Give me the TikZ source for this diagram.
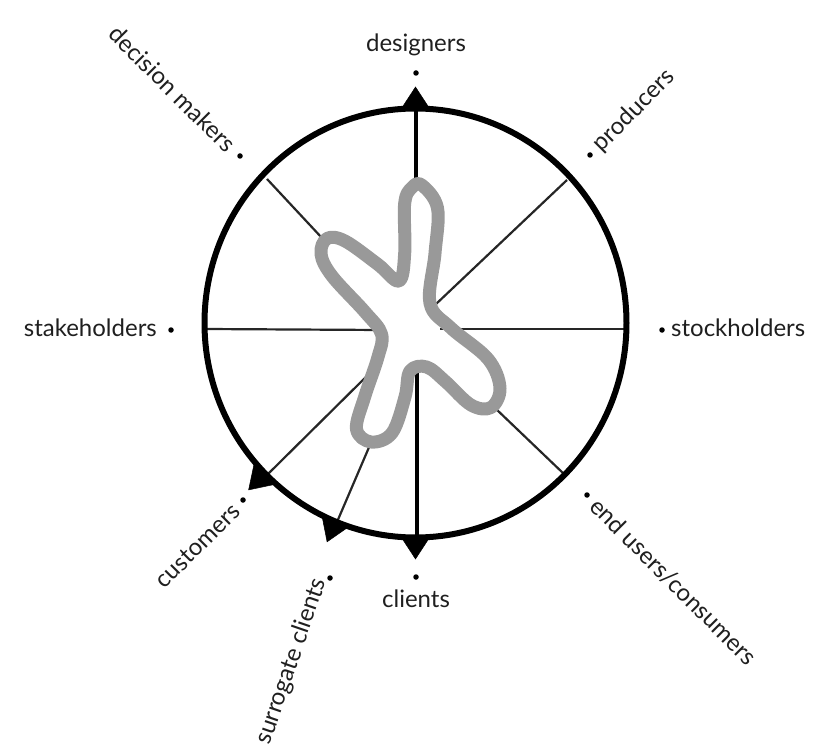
\documentclass[tikz,border=0pt]{standalone}
\usepackage{fontspec}
\setmainfont{Lato}
\usetikzlibrary{calc}
\begin{document}
\begin{tikzpicture}[x=1pt,y=-1pt,
  lbl/.style={inner sep=0pt, font=\fontsize{24}{28}\selectfont, text=black!88},
  spoke/.style={line width=2.2pt, black!85},
  vspoke/.style={line width=4pt, black},
  dotmark/.style={circle, fill=black, inner sep=0pt, minimum size=5.5pt},
  marker/.style={fill=black, draw=black, line width=0.5pt}]
\useasboundingbox (0,0) rectangle (831,749);
\coordinate (C) at (415.5,323);
% spokes
\coordinate (t1) at (416,110); \coordinate (t2) at (416,190);
\coordinate (b1) at (417,537); \coordinate (b2) at (417,372);
\coordinate (ul1) at (267,179); \coordinate (ul2) at (322,238);
\coordinate (ur1) at (567,180); \coordinate (ur2) at (435,305);
\coordinate (l1) at (205,329); \coordinate (l2) at (382,330);
\coordinate (r1) at (626,329); \coordinate (r2) at (440,329);
\coordinate (ll1) at (268,474); \coordinate (ll2) at (375,368);
\coordinate (lr1) at (564,474); \coordinate (lr2) at (495,408);
\coordinate (s1) at (337,522); \coordinate (s2) at (370,445);
\draw[vspoke] (t1) -- (t2);
\draw[vspoke] (b1) -- (b2);
\draw[spoke] (ul1) -- (ul2);
\draw[spoke] (ur1) -- (ur2);
\draw[spoke] (l1) -- (l2);
\draw[spoke] (r1) -- (r2);
\draw[spoke] (ll1) -- (ll2);
\draw[spoke] (lr1) -- (lr2);
\draw[spoke] (s1) -- (s2);
% circle
\draw[line width=6pt, black] (C) ellipse (211 and 214.5);
% markers (paper angle a)
\foreach \a in {90,270,225,248}{
  \fill[marker] ($(C)+(-\a:236)$) -- ($(C)+(-\a:213)+(-\a+90:15)$) -- ($(C)+(-\a:213)+(-\a-90:15)$) -- cycle;
}
% blob
\draw[line width=13pt, black!40, line join=round]
  plot[smooth cycle, tension=0.6] coordinates {
  (421.7,185) (437.5,208) (435,253.3) (430,303.3) (451,328) (488,359)
  (500,388) (491,407.5) (471,405) (446,382) (426.7,367) (410,371)
  (405,397) (392,433) (371,442) (356.5,429) (364.7,396.7) (378,357)
  (381.5,334) (365,312) (332,276) (321,254) (327,238.5) (345,241)
  (378,264.5) (399,281) (404.7,253.3) (404.7,203.3) (412,187.5)};
% dots
\node[dotmark] (dD) at (416,73) {};
\node[dotmark] (dP) at (590,155) {};
\node[dotmark] (dSh) at (662,330) {};
\node[dotmark] (dE) at (587,495) {};
\node[dotmark] (dCl) at (416,577) {};
\node[dotmark] (dSu) at (330,578) {};
\node[dotmark] (dCu) at (243,500) {};
\node[dotmark] (dSt) at (171,330) {};
\node[dotmark] (dDm) at (240,156) {};
% labels
\node[lbl, anchor=base] (Ld) at (416,52) {designers};
\node[lbl, anchor=west, rotate=45] (Lp) at (597,148) {producers};
\node[lbl, anchor=west] (Lsh) at (671,328) {stockholders};
\node[lbl, anchor=west, rotate=-45] (Le) at (594,502) {end users/consumers};
\node[lbl, anchor=north] (Lcl) at (416,590) {clients};
\node[lbl, anchor=east, rotate=71] (Lsu) at (320,579) {surrogate clients};
\node[lbl, anchor=east, rotate=45] (Lcu) at (236,507) {customers};
\node[lbl, anchor=east] (Lst) at (157,328) {stakeholders};
\node[lbl, anchor=east, rotate=-45] (Ldm) at (232,148) {decision makers};
\end{tikzpicture}
\end{document}
